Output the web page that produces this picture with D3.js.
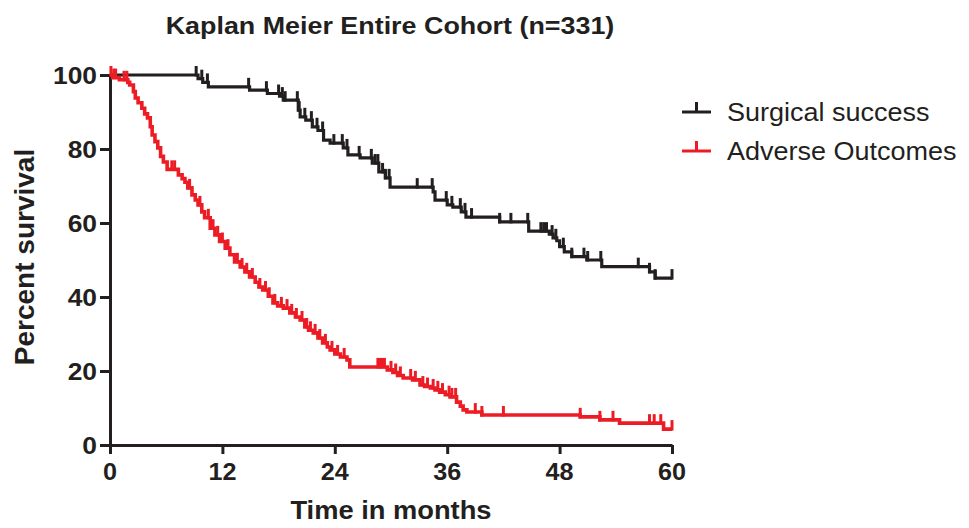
<!DOCTYPE html>
<html>
<head>
<meta charset="utf-8">
<script src="https://cdn.jsdelivr.net/npm/d3@7"></script>
<style>
  html, body { margin: 0; padding: 0; background: #fff; }
  svg { display: block; font-family: "Liberation Sans", Arial, sans-serif; }
</style>
</head>
<body>
<svg id="chart" width="969" height="528"></svg>
<script>
// ---------------- data ----------------
const chartTitle = "Kaplan Meier Entire Cohort (n=331)";
const xLabel = "Time in months";
const yLabel = "Percent survival";
const seriesNames = ["Surgical success", "Adverse Outcomes"];
const seriesColors = ["#231f20", "#ed1c24"];
const xTicks = [0, 12, 24, 36, 48, 60];
const yTicks = [0, 20, 40, 60, 80, 100];

// Surgical success: step times (months) and survival (%)
const successTimes = [0, 9.4, 9.9, 10.5, 14.9, 16.8, 18.1, 18.5, 20.1, 20.3, 20.9, 21.6, 22.2, 22.8, 23.5, 24.9, 25.4, 26.7, 28.0, 28.7, 29.4, 29.9, 34.5, 34.7, 36.0, 36.6, 37.5, 38.0, 41.6, 44.7, 46.9, 47.3, 47.7, 48.0, 48.5, 49.3, 50.9, 52.5, 57.6, 58.2];
const successSurv  = [100, 99.0, 98.0, 96.8, 95.9, 95.0, 94.3, 93.2, 90.5, 88.7, 87.8, 86.0, 85.0, 82.4, 81.6, 80.3, 78.4, 77.6, 76.2, 73.8, 72.2, 69.7, 68.4, 66.2, 64.9, 64.3, 63.0, 61.6, 60.3, 57.8, 57.0, 56.0, 55.2, 53.6, 52.2, 50.9, 50.0, 48.2, 46.8, 45.1];
const successCensor = [9.2, 9.8, 10.4, 14.8, 16.7, 18.0, 18.4, 18.7, 20.0, 20.2, 20.8, 21.5, 22.1, 22.7, 23.9, 24.8, 25.3, 26.6, 27.9, 28.3, 28.6, 29.1, 29.4, 29.8, 32.8, 34.4, 35.9, 36.5, 37.4, 37.9, 38.6, 41.6, 42.8, 44.6, 46.0, 46.3, 46.6, 47.2, 47.6, 48.4, 49.3, 50.6, 51.0, 52.4, 56.4, 57.6, 58.2, 60.0];

// Adverse outcomes
const adverseTimes = [0, 0.3, 1.0, 1.9, 2.1, 2.5, 2.7, 3.0, 3.4, 3.7, 4.0, 4.3, 4.5, 4.8, 5.1, 5.4, 5.7, 6.1, 7.3, 7.7, 8.0, 8.3, 8.75, 9.1, 9.4, 9.8, 10.1, 10.7, 11.2, 11.7, 12.3, 12.8, 13.3, 13.9, 14.4, 14.9, 15.5, 15.9, 16.3, 16.9, 17.4, 17.9, 18.5, 19.2, 19.8, 20.3, 20.8, 21.2, 21.7, 22.2, 22.7, 23.2, 23.5, 24.0, 24.6, 25.3, 25.6, 29.6, 30.2, 30.7, 31.3, 32.3, 33.1, 33.6, 34.2, 34.7, 35.2, 35.8, 36.3, 37.0, 37.4, 37.7, 38.1, 39.7, 50.2, 52.3, 54.4, 59.1];
const adverseSurv  = [100, 99.3, 98.7, 98.0, 97.3, 95.5, 93.8, 92.5, 91.0, 89.5, 88.4, 86.0, 83.8, 82.0, 80.3, 78.0, 76.5, 74.5, 73.0, 72.0, 71.0, 69.5, 67.6, 66.2, 64.9, 63.0, 61.4, 58.6, 56.8, 55.0, 53.2, 51.4, 49.5, 48.1, 46.8, 45.4, 44.0, 42.7, 41.9, 40.2, 38.4, 37.6, 37.0, 35.7, 34.6, 33.8, 31.9, 31.0, 30.3, 28.9, 27.6, 26.5, 25.7, 24.6, 23.8, 23.0, 21.1, 20.3, 19.6, 18.8, 18.1, 17.6, 16.2, 15.8, 15.4, 14.9, 14.3, 13.6, 13.0, 11.6, 10.5, 9.5, 8.9, 8.1, 7.6, 6.8, 5.9, 4.3];
const adverseCensor = [0.1, 0.4, 0.6, 1.5, 1.8, 6.6, 6.9, 8.5, 9.6, 10.5, 11.0, 11.5, 12.0, 12.6, 13.6, 14.1, 14.6, 15.2, 16.0, 16.6, 17.0, 17.6, 18.3, 18.9, 19.4, 19.9, 20.5, 21.0, 21.4, 21.9, 22.4, 23.0, 23.7, 24.3, 25.0, 28.6, 28.8, 29.0, 29.3, 30.0, 30.5, 31.0, 32.1, 32.6, 33.4, 33.9, 34.5, 35.0, 35.5, 36.2, 36.5, 36.9, 39.0, 39.7, 42.0, 50.2, 52.3, 53.7, 57.6, 58.1, 58.8, 60.0];

const xMax = 60;

// ---------------- drawing ----------------
const svg = d3.select("#chart");
const x = d3.scaleLinear().domain([0, 60]).range([110, 672]);
const y = d3.scaleLinear().domain([0, 100]).range([445, 75]);
const SX = 1.1; // horizontal stretch of the original figure's text

function stretchedText(parent, tx, ty, str, opts) {
  const g = parent.append("g").attr("transform", `translate(${tx},${ty}) scale(${opts.sx || SX},1)` + (opts.rotate ? ` rotate(${opts.rotate})` : ""));
  return g.append("text")
    .attr("text-anchor", opts.anchor || "middle")
    .attr("font-size", opts.size)
    .attr("font-weight", opts.weight || "bold")
    .attr("fill", opts.fill || "#231f20")
    .text(str);
}

// axes
const xAxis = d3.axisBottom(x).tickValues(xTicks).tickSize(9).tickSizeOuter(0).tickPadding(6);
const yAxis = d3.axisLeft(y).tickValues(yTicks).tickSize(10).tickSizeOuter(0).tickPadding(4);

const gx = svg.append("g").attr("transform", "translate(0,445)").call(xAxis);
const gy = svg.append("g").attr("transform", "translate(110,0)").call(yAxis);
[gx, gy].forEach(g => {
  g.select(".domain").attr("stroke", "#231f20").attr("stroke-width", 3);
  g.selectAll(".tick line").attr("stroke", "#231f20").attr("stroke-width", 3);
  g.selectAll(".tick text").remove();
});
// tick labels (stretched like original)
xTicks.forEach(v => stretchedText(svg, x(v), 480, String(v), {size: 24, sx: 1.05}));
yTicks.forEach(v => stretchedText(svg, 97, y(v) + 8.5, String(v), {size: 24, anchor: "end"}));

// curves
function drawSeries(times, surv, censor, color, width) {
  const pts = times.map((t, i) => [t, surv[i]]);
  pts.push([xMax, surv[surv.length - 1]]);
  const line = d3.line().x(d => x(d[0])).y(d => y(d[1])).curve(d3.curveStepAfter);
  svg.append("path").datum(pts)
    .attr("fill", "none").attr("stroke", color).attr("stroke-width", width)
    .attr("stroke-linejoin", "miter").attr("d", line);
  const survAt = t => {
    let s = surv[0];
    for (let i = 0; i < times.length; i++) { if (times[i] <= t) s = surv[i]; }
    return s;
  };
  svg.append("g").selectAll("line").data(censor).join("line")
    .attr("x1", d => x(d)).attr("x2", d => x(d))
    .attr("y1", d => y(survAt(d)) + 1.5).attr("y2", d => y(survAt(d)) - 9)
    .attr("stroke", color).attr("stroke-width", 3);
}
drawSeries(successTimes, successSurv, successCensor, seriesColors[0], 3.2);
drawSeries(adverseTimes, adverseSurv, adverseCensor, seriesColors[1], 3.6);

// title and axis labels
stretchedText(svg, 390, 34, chartTitle, {size: 24, sx: 1.12});
stretchedText(svg, 391, 519, xLabel, {size: 26, sx: 1.05});
stretchedText(svg, 34, 257, yLabel, {size: 28, rotate: -90, sx: 1.0});

// legend
const legendY = [112, 151];
seriesNames.forEach((name, i) => {
  const ly = legendY[i];
  svg.append("line").attr("x1", 682).attr("x2", 711).attr("y1", ly).attr("y2", ly)
    .attr("stroke", seriesColors[i]).attr("stroke-width", 3);
  svg.append("line").attr("x1", 696.5).attr("x2", 696.5).attr("y1", ly + 1).attr("y2", ly - 10)
    .attr("stroke", seriesColors[i]).attr("stroke-width", 3);
  stretchedText(svg, 727, ly + 9, name, {size: 25, weight: "normal", anchor: "start", sx: 1.08});
});
</script>
</body>
</html>
